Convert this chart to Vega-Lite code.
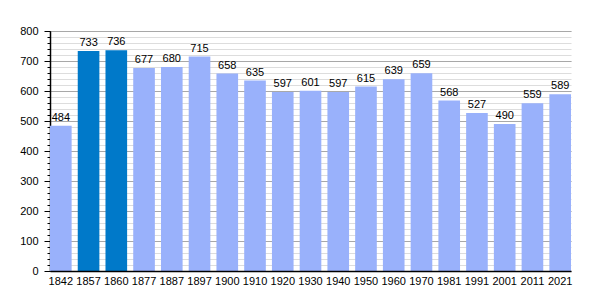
{
  "$schema": "https://vega.github.io/schema/vega-lite/v6.json",
  "autosize": {"type": "none"},
  "width": 521,
  "height": 240,
  "padding": {"left": 50, "top": 31, "right": 29, "bottom": 29},
  "background": "white",
  "config": {
    "font": "Liberation Sans",
    "view": {"stroke": null}
  },
  "data": {
    "values": [
      {"year": "1842", "pop": 484, "hl": "n"},
      {"year": "1857", "pop": 733, "hl": "y"},
      {"year": "1860", "pop": 736, "hl": "y"},
      {"year": "1877", "pop": 677, "hl": "n"},
      {"year": "1887", "pop": 680, "hl": "n"},
      {"year": "1897", "pop": 715, "hl": "n"},
      {"year": "1900", "pop": 658, "hl": "n"},
      {"year": "1910", "pop": 635, "hl": "n"},
      {"year": "1920", "pop": 597, "hl": "n"},
      {"year": "1930", "pop": 601, "hl": "n"},
      {"year": "1940", "pop": 597, "hl": "n"},
      {"year": "1950", "pop": 615, "hl": "n"},
      {"year": "1960", "pop": 639, "hl": "n"},
      {"year": "1970", "pop": 659, "hl": "n"},
      {"year": "1981", "pop": 568, "hl": "n"},
      {"year": "1991", "pop": 527, "hl": "n"},
      {"year": "2001", "pop": 490, "hl": "n"},
      {"year": "2011", "pop": 559, "hl": "n"},
      {"year": "2021", "pop": 589, "hl": "n"}
    ]
  },
  "encoding": {
    "x": {
      "field": "year", "type": "ordinal", "sort": null,
      "scale": {"paddingInner": 0.22, "paddingOuter": 0, "align": 0},
      "axis": {"title": null, "labelAngle": 0, "labelFontSize": 11, "labelColor": "#000", "ticks": false, "labelPadding": 4, "domainColor": "#000", "domainWidth": 1.5, "zindex": 2}
    }
  },
  "layer": [
    {
      "mark": {"type": "bar"},
      "encoding": {
        "y": {
          "field": "pop", "type": "quantitative",
          "scale": {"domain": [0, 800], "nice": false},
          "axis": {"title": null, "values": [0,20,40,60,80,100,120,140,160,180,200,220,240,260,280,300,320,340,360,380,400,420,440,460,480,500,520,540,560,580,600,620,640,660,680,700,720,740,760,780,800], "labels": false, "domain": false, "tickSize": 3, "tickColor": "#000", "gridColor": "#dddddd", "grid": true, "zindex": 0}
        },
        "color": {"field": "hl", "type": "nominal", "scale": {"domain": ["n", "y"], "range": ["#99b1fb", "#0079c9"]}, "legend": null}
      }
    },
    {
      "mark": {"type": "text", "baseline": "bottom", "dy": -3, "fontSize": 11, "color": "#000"},
      "encoding": {
        "y": {
          "field": "pop", "type": "quantitative",
          "axis": {"title": null, "values": [0,100,200,300,400,500,600,700,800], "grid": true, "gridColor": "#a8a8a8", "tickSize": 6, "tickColor": "#000", "domainColor": "#000", "domainWidth": 1.5, "labelFontSize": 11, "labelColor": "#000", "labelPadding": 6, "orient": "left", "zindex": 0}
        },
        "text": {"field": "pop", "type": "quantitative"}
      }
    }
  ],
  "resolve": {"axis": {"y": "independent"}}
}
